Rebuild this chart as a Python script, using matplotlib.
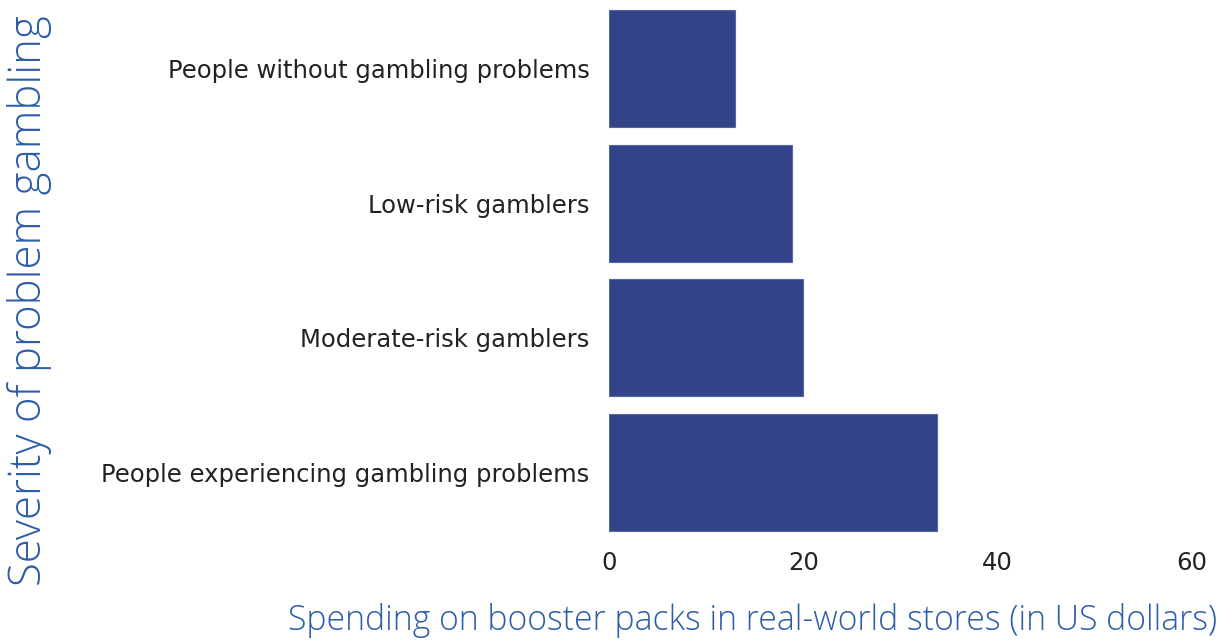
import matplotlib
matplotlib.use("Agg")
import matplotlib.pyplot as plt

categories = ["People without gambling problems", "Low-risk gamblers",
              "Moderate-risk gamblers", "People experiencing gambling problems"]
values = [13, 18.8, 20, 33.8]
xticks = [0, 20, 40, 60]

bar_color = "#334387"
label_color = "#2d5ca8"

fig = plt.figure(figsize=(12.27, 6.4), dpi=100)
ax = fig.add_axes([609/1227, 1 - 540/640, (1192-609)/1227, 539/640])
ax.barh(range(len(categories)), values, height=0.867, color=bar_color,
        edgecolor="#5566a0", linewidth=0.8)
ax.set_ylim(len(categories) - 0.5, -0.5)
ax.set_xlim(0, 60)
ax.set_xticks(xticks)
ax.set_xticklabels([str(t) for t in xticks])
ax.set_yticks(range(len(categories)))
ax.set_yticklabels(categories)
for s in ax.spines.values():
    s.set_visible(False)
ax.tick_params(axis="both", length=0, labelsize=17.5, labelcolor="#222222")
ax.tick_params(axis="y", pad=14)
ax.tick_params(axis="x", pad=8)
for lab in ax.get_xticklabels() + ax.get_yticklabels():
    lab.set_family(["DejaVu Sans"])

fig.text(753/1227, 1 - 620/640, "Spending on booster packs in real-world stores (in US dollars)",
         ha="center", va="center", fontsize=24.3, color=label_color,
         family=["Open Sans", "DejaVu Sans"], fontweight="light")
fig.text(30/1227, 1 - 301/640, "Severity of problem gambling", rotation=90,
         ha="center", va="center", fontsize=31.5, color=label_color,
         family=["Open Sans", "DejaVu Sans"], fontweight="light")

fig.savefig("out.png", dpi=100)
